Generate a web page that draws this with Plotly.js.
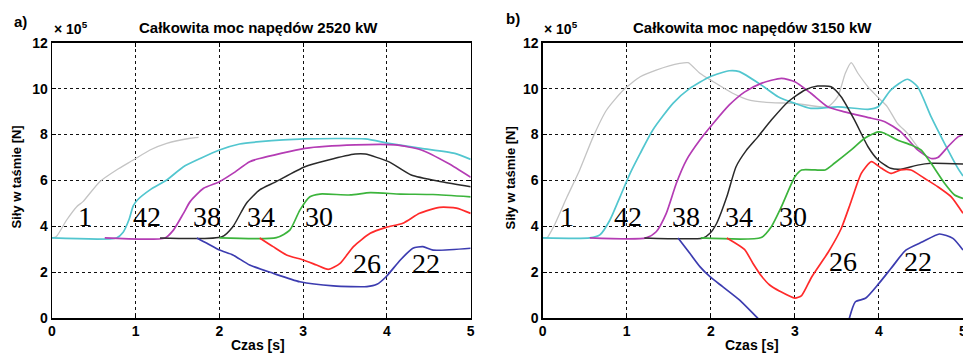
<!DOCTYPE html>
<html>
<head>
<meta charset="utf-8">
<script src="https://cdn.plot.ly/plotly-3.0.1.min.js"></script>
<style>html,body{margin:0;padding:0;background:#fff;}#chart{width:963px;height:353px;}</style>
</head>
<body>
<div id="chart"></div>
<script>
// Forces in belt, units of 10^5 N ; time in s
// ---------- panel a) 2520 kW ----------
var tA1  = [0, 0.05, 0.175, 0.295, 0.37, 0.57, 0.77, 0.97, 1.17, 1.37, 1.65, 1.75];
var fA1  = [3.5, 3.55, 4.28, 4.86, 5.08, 5.95, 6.46, 6.89, 7.33, 7.62, 7.84, 7.88];
var tA42 = [0, 0.77, 0.85, 0.92, 0.97, 1.02, 1.17, 1.37, 1.57, 1.77, 2.0, 2.24, 2.48, 3.02, 3.74, 4.02, 4.41, 4.81, 5.0];
var fA42 = [3.5, 3.5, 3.75, 4.3, 4.9, 5.15, 5.59, 6.02, 6.6, 6.96, 7.33, 7.59, 7.69, 7.81, 7.81, 7.62, 7.4, 7.18, 6.92];
var tA38 = [0.63, 1.35, 1.45, 1.57, 1.65, 1.81, 2.0, 2.16, 2.36, 2.48, 3.02, 3.62, 4.1, 4.41, 4.73, 5.0];
var fA38 = [3.5, 3.5, 3.84, 4.57, 5.08, 5.66, 5.95, 6.31, 6.82, 6.96, 7.4, 7.55, 7.55, 7.33, 6.75, 6.14];
var tA34 = [1.29, 2.03, 2.16, 2.32, 2.48, 2.66, 3.02, 3.3, 3.62, 3.74, 4.02, 4.29, 4.65, 5.0];
var fA34 = [3.5, 3.55, 3.99, 5.0, 5.59, 5.92, 6.6, 6.89, 7.15, 7.15, 6.82, 6.24, 5.95, 5.73];
var tA30 = [2.0, 2.68, 2.84, 2.96, 3.08, 3.2, 3.56, 3.8, 4.16, 4.55, 5.0];
var fA30 = [3.5, 3.51, 3.84, 4.71, 5.29, 5.41, 5.37, 5.47, 5.41, 5.39, 5.29];
var tA26 = [2.48, 2.64, 2.8, 3.0, 3.16, 3.3, 3.44, 3.6, 3.8, 3.99, 4.19, 4.39, 4.63, 4.83, 5.0];
var fA26 = [3.5, 3.12, 2.76, 2.54, 2.32, 2.13, 2.39, 3.12, 3.7, 3.96, 4.14, 4.57, 4.83, 4.8, 4.57];
var tA22 = [1.73, 1.85, 2.0, 2.16, 2.36, 2.64, 2.96, 3.36, 3.76, 3.88, 3.99, 4.16, 4.31, 4.43, 4.55, 5.0];
var fA22 = [3.5, 3.27, 2.97, 2.76, 2.32, 1.96, 1.59, 1.41, 1.38, 1.48, 1.81, 2.54, 3.05, 3.12, 2.97, 3.05];

// ---------- panel b) 3150 kW ----------
var tB1  = [0, 0.05, 0.13, 0.29, 0.44, 0.6, 0.76, 0.96, 1.16, 1.35, 1.63, 1.73, 1.87, 2.03, 2.26, 2.46, 2.72, 3.0, 3.39, 3.51, 3.6, 3.67, 3.75, 3.87, 4.0, 4.1, 4.22, 4.34, 4.46, 4.55];
var fB1  = [3.5, 3.5, 3.99, 5.29, 6.46, 7.9, 9.07, 9.94, 10.52, 10.81, 11.1, 11.13, 10.67, 10.3, 9.8, 9.5, 9.39, 9.36, 9.21, 9.65, 10.67, 11.13, 10.67, 10.08, 9.58, 9.21, 8.49, 8.05, 7.47, 7.1];
var tB42 = [0, 0.56, 0.68, 0.8, 0.92, 1.04, 1.16, 1.31, 1.55, 1.75, 1.99, 2.22, 2.34, 2.6, 2.8, 3.0, 3.19, 3.51, 3.87, 3.99, 4.14, 4.34, 4.46, 4.62, 4.78, 4.94, 5.0];
var fB42 = [3.5, 3.5, 3.63, 4.28, 5.29, 6.31, 7.18, 8.2, 9.36, 10.01, 10.52, 10.78, 10.74, 10.16, 9.65, 9.36, 9.14, 9.21, 9.1, 9.21, 9.94, 10.41, 10.08, 8.78, 7.62, 6.53, 6.2];
var tB38 = [0.56, 1.23, 1.35, 1.47, 1.59, 1.71, 1.87, 2.03, 2.22, 2.4, 2.6, 2.84, 3.0, 3.19, 3.39, 3.59, 3.91, 4.07, 4.26, 4.46, 4.62, 4.7, 4.82, 4.94, 5.0];
var fB38 = [3.5, 3.5, 3.77, 4.57, 5.88, 6.89, 7.76, 8.49, 9.29, 9.85, 10.23, 10.45, 10.3, 9.8, 9.21, 8.99, 8.71, 8.56, 8.12, 7.33, 6.96, 7.0, 7.47, 7.9, 8.0];
var tB34 = [1.21, 1.91, 1.99, 2.07, 2.19, 2.3, 2.42, 2.56, 2.72, 2.92, 3.12, 3.27, 3.43, 3.55, 3.71, 3.87, 3.99, 4.14, 4.26, 4.46, 4.62, 5.0];
var fB34 = [3.5, 3.5, 3.7, 4.14, 5.29, 6.6, 7.3, 7.9, 8.63, 9.43, 9.94, 10.11, 10.08, 9.65, 8.63, 7.47, 6.89, 6.53, 6.49, 6.67, 6.75, 6.72];
var tB30 = [1.88, 2.6, 2.72, 2.84, 3.0, 3.08, 3.24, 3.36, 3.47, 3.67, 3.83, 3.99, 4.06, 4.22, 4.38, 4.5, 4.62, 4.78, 4.9, 5.0];
var fB30 = [3.5, 3.52, 3.99, 4.86, 6.16, 6.46, 6.46, 6.46, 6.75, 7.33, 7.84, 8.12, 8.07, 7.76, 7.55, 7.33, 6.75, 5.88, 5.37, 5.22];
var tB26 = [2.19, 2.4, 2.5, 2.6, 2.7, 2.82, 3.0, 3.08, 3.2, 3.4, 3.55, 3.67, 3.79, 3.91, 4.03, 4.14, 4.26, 4.38, 4.54, 4.7, 4.86, 5.0];
var fB26 = [3.5, 3.0, 2.4, 1.85, 1.45, 1.18, 0.88, 0.99, 1.8, 2.9, 3.9, 5.1, 6.31, 6.82, 6.53, 6.31, 6.46, 6.46, 6.1, 5.73, 5.29, 4.57];
var tB22 = [1.61, 1.75, 1.87, 1.99, 2.14, 2.34, 2.54, 2.6, null, 3.64, 3.72, 3.84, 4.0, 4.16, 4.32, 4.52, 4.72, 4.88, 5.0];
var fB22 = [3.5, 2.83, 2.25, 1.81, 1.38, 0.8, 0.07, -0.15, null, -0.1, 0.72, 0.87, 1.52, 2.25, 2.97, 3.33, 3.67, 3.48, 2.97];

// curve labels (belt section numbers)
var labelText = ["1", "42", "38", "34", "30", "26", "22"];
var labelXA = [0.39, 1.13, 1.85, 2.5, 3.19, 3.76, 4.47];
var labelYA = [4.42, 4.42, 4.42, 4.42, 4.42, 2.39, 2.39];
var labelXB = [0.29, 1.02, 1.7, 2.34, 2.98, 3.57, 4.46];
var labelYB = [4.42, 4.42, 4.42, 4.42, 4.42, 2.46, 2.46];

var colors = ["#c4c4c4", "#52c6cf", "#b43cb4", "#2a2a2a", "#3cb43c", "#ff2a2a", "#3c3cb0"];
var widths = [1.3, 1.7, 1.7, 1.5, 1.7, 1.7, 1.7];

var seriesA = [[tA1,fA1],[tA42,fA42],[tA38,fA38],[tA34,fA34],[tA30,fA30],[tA26,fA26],[tA22,fA22]];
var seriesB = [[tB1,fB1],[tB42,fB42],[tB38,fB38],[tB34,fB34],[tB30,fB30],[tB26,fB26],[tB22,fB22]];

var data = [];
seriesA.forEach(function(s, i){
  data.push({x:s[0], y:s[1], xaxis:'x', yaxis:'y', mode:'lines', type:'scatter',
    line:{color:colors[i], width:widths[i], shape:'spline', smoothing:0.6}, showlegend:false, hoverinfo:'skip'});
});
seriesB.forEach(function(s, i){
  data.push({x:s[0], y:s[1], xaxis:'x2', yaxis:'y2', mode:'lines', type:'scatter', connectgaps:false,
    line:{color:colors[i], width:widths[i], shape:'spline', smoothing:0.6}, showlegend:false, hoverinfo:'skip'});
});

var tickFont = {family:'"Liberation Sans", Arial, sans-serif', size:14, color:'#000', weight:'bold'};
function xax(domain, anchor){
  return {domain:domain, anchor:anchor, range:[0,5], dtick:1, tick0:0, showgrid:true, gridcolor:'#111', griddash:'dot', gridwidth:1,
    zeroline:false, showline:true, linecolor:'#000', linewidth:1.3, mirror:'ticks', ticks:'inside', ticklen:4, tickcolor:'#000',
    tickfont:tickFont, fixedrange:true};
}
function yax(anchor){
  return {domain:[0.0983, 0.879], anchor:anchor, range:[0,12], dtick:2, tick0:0, showgrid:true, gridcolor:'#111', griddash:'dot', gridwidth:1,
    zeroline:false, showline:true, linecolor:'#000', linewidth:1.3, mirror:'ticks', ticks:'inside', ticklen:4, tickcolor:'#000',
    tickfont:tickFont, fixedrange:true};
}

var txtFont = {family:'"Liberation Sans", Arial, sans-serif', size:14, color:'#000', weight:'bold'};
var annotations = [];
function paperText(text, x, y, opts){
  var a = {text:text, xref:'paper', yref:'paper', x:x, y:y, showarrow:false, font:Object.assign({}, txtFont, opts && opts.font || {}),
    xanchor:(opts && opts.xanchor) || 'center', yanchor:(opts && opts.yanchor) || 'middle'};
  if (opts && opts.textangle !== undefined) a.textangle = opts.textangle;
  annotations.push(a);
}
paperText('a)', 0.0218, 0.9377, {font:{size:15}});
paperText('b)', 0.5327, 0.949, {font:{size:15}});
paperText('Całkowita moc napędów 2520 kW', 0.2684, 0.9235, {font:{size:15}});
paperText('Całkowita moc napędów 3150 kW', 0.7814, 0.9235, {font:{size:15}});
paperText('× 10<sup>5</sup>', 0.0545, 0.889, {xanchor:'left', yanchor:'bottom', font:{size:14}});
paperText('× 10<sup>5</sup>', 0.5625, 0.889, {xanchor:'left', yanchor:'bottom', font:{size:14}});
paperText('Siły w taśmie [N]', 0.0177, 0.497, {textangle:-90, font:{size:13}});
paperText('Siły w taśmie [N]', 0.5306, 0.497, {textangle:-90, font:{size:13}});
paperText('Czas [s]', 0.2674, 0.0227, {font:{size:14}});
paperText('Czas [s]', 0.7814, 0.0227, {font:{size:14}});
// last x tick label of panel b sits on the picture's right edge (half cut)
annotations.push({text:'5', xref:'x2', yref:'paper', x:5, y:0.092, showarrow:false, font:tickFont, xanchor:'center', yanchor:'top'});

var labFont = {family:'"Liberation Serif", "Times New Roman", serif', size:28, color:'#000'};
labelText.forEach(function(t, i){
  annotations.push({text:t, xref:'x', yref:'y', x:labelXA[i], y:labelYA[i], showarrow:false, font:labFont, xanchor:'center', yanchor:'middle'});
  annotations.push({text:t, xref:'x2', yref:'y2', x:labelXB[i], y:labelYB[i], showarrow:false, font:labFont, xanchor:'center', yanchor:'middle'});
});

var layout = {
  width:963, height:353, margin:{l:0, r:0, t:0, b:0}, paper_bgcolor:'#fff', plot_bgcolor:'#fff', showlegend:false,
  xaxis: xax([52/963, 470.7/963], 'y'),
  yaxis: yax('x'),
  xaxis2: xax([542.7/963, 1.0], 'y2'),
  yaxis2: yax('x2'),
  annotations: annotations
};

Plotly.newPlot('chart', data, layout, {staticPlot:true, displayModeBar:false});
</script>
</body>
</html>
